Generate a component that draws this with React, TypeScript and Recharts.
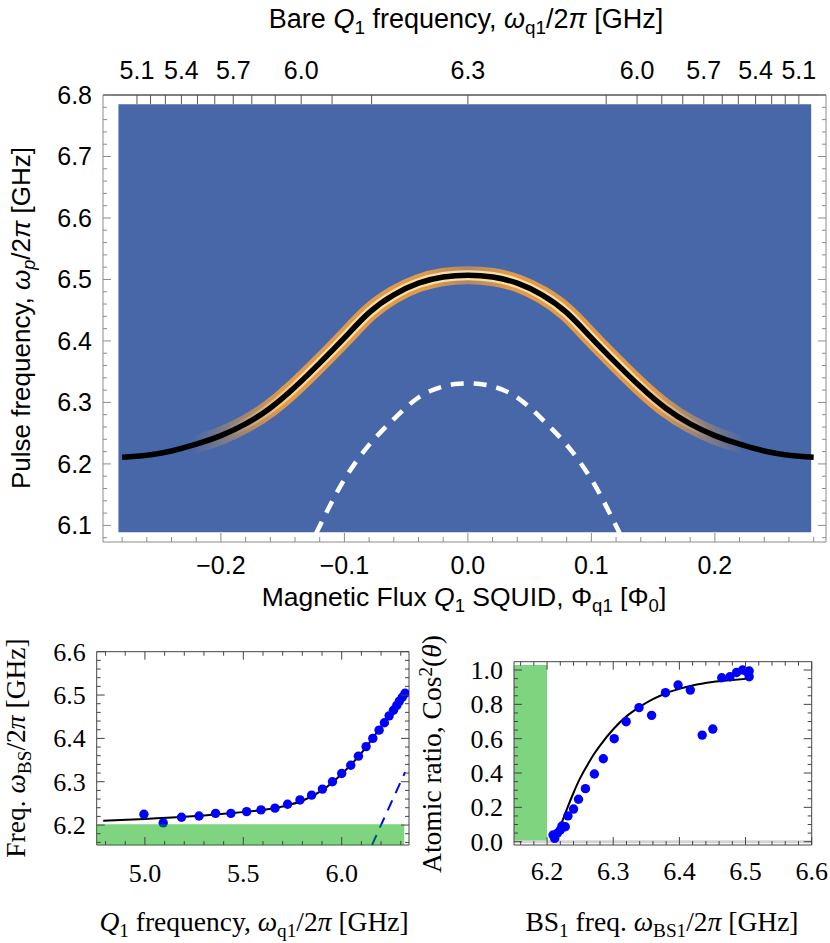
import React from 'react';
import { ComposedChart, Line, Scatter, XAxis, YAxis, ReferenceArea, ReferenceLine } from 'recharts';

// ---------------- Top panel: pulse spectroscopy vs flux ----------------
const fluxGrid = [-0.28, -0.26, -0.24, -0.22, -0.2, -0.18, -0.16, -0.14, -0.12, -0.1, -0.08, -0.06, -0.04, -0.02, 0, 0.02, 0.04, 0.06, 0.08, 0.1, 0.12, 0.14, 0.16, 0.18, 0.2, 0.22, 0.24, 0.26, 0.28];
const pulseFreq = [6.211, 6.214, 6.221, 6.232, 6.246, 6.265, 6.291, 6.325, 6.364, 6.405, 6.446, 6.475, 6.494, 6.504, 6.507, 6.504, 6.494, 6.475, 6.446, 6.405, 6.364, 6.325, 6.291, 6.265, 6.246, 6.232, 6.221, 6.214, 6.211];
const bareFlux = [-0.123, -0.11, -0.1, -0.09, -0.08, -0.07, -0.06, -0.05, -0.04, -0.03, -0.02, -0.01, 0, 0.01, 0.02, 0.03, 0.04, 0.05, 0.06, 0.07, 0.08, 0.09, 0.1, 0.11, 0.123];
const bareFreq = [6.087, 6.139, 6.175, 6.205, 6.231, 6.253, 6.273, 6.292, 6.308, 6.319, 6.326, 6.33, 6.331, 6.33, 6.326, 6.319, 6.308, 6.292, 6.273, 6.253, 6.231, 6.205, 6.175, 6.139, 6.087];
// extent of the measured map (flux, GHz)
const mapFlux = [-0.283, 0.278];
const mapFreq = [6.089, 6.785];

const topXDomain = [-0.2955, 0.29];
const topYDomain = [6.073, 6.8];
const fluxMajor = [-0.2, -0.1, 0, 0.1, 0.2];
const fluxLabels = ['\u22120.2', '\u22120.1', '0.0', '0.1', '0.2'];
const pulseMajor = [6.1, 6.2, 6.3, 6.4, 6.5, 6.6, 6.7, 6.8];
const topQubitTickFlux = [-0.268, -0.232, -0.19, -0.135, 0, 0.137, 0.191, 0.233, 0.268];
const topQubitTickLabels = ['5.1', '5.4', '5.7', '6.0', '6.3', '6.0', '5.7', '5.4', '5.1'];
const topQubitMinorFlux = [-0.257, -0.245, -0.219, -0.205, -0.175, -0.156, -0.11, -0.078, 0.112, 0.157, 0.174, 0.206, 0.219, 0.246, 0.257];

// ---------------- Bottom-left: BS frequency vs qubit frequency ----------------
const qubitFreqPts = [4.995, 5.093, 5.186, 5.275, 5.359, 5.437, 5.517, 5.59, 5.661, 5.725, 5.788, 5.847, 5.902, 5.953, 6.0, 6.046, 6.085, 6.124, 6.158, 6.19, 6.217, 6.241, 6.263, 6.28, 6.293, 6.308, 6.322];
const bsFreqPts = [6.225, 6.205, 6.218, 6.221, 6.227, 6.227, 6.231, 6.235, 6.239, 6.248, 6.258, 6.269, 6.283, 6.3, 6.319, 6.338, 6.359, 6.381, 6.4, 6.419, 6.436, 6.452, 6.465, 6.476, 6.486, 6.495, 6.504];
const qubitFreqFit = [4.788, 5.0, 5.2, 5.4, 5.6, 5.7, 5.8, 5.9, 6.0, 6.1, 6.2, 6.25, 6.3, 6.33];
const bsFreqFit = [6.21, 6.214, 6.219, 6.226, 6.235, 6.243, 6.256, 6.28, 6.318, 6.366, 6.427, 6.458, 6.49, 6.508];
const bareLineX = [6.154, 6.322];
const bareLineY = [6.154, 6.322];
const blXDomain = [4.755, 6.342];
const blYDomain = [6.154, 6.6];
const blXMajor = [5.0, 5.5, 6.0];
const blYMajor = [6.2, 6.3, 6.4, 6.5, 6.6];
const blBand = { x1: 4.755, x2: 6.318, y1: 6.154, y2: 6.202 };

// ---------------- Bottom-right: atomic ratio vs BS frequency ----------------
const bsFreqRatioPts = [6.209, 6.2115, 6.2155, 6.22, 6.2225, 6.2275, 6.2315, 6.24, 6.2475, 6.258, 6.2715, 6.285, 6.3015, 6.3195, 6.339, 6.358, 6.379, 6.398, 6.4165, 6.4345, 6.4505, 6.464, 6.4765, 6.4865, 6.4955, 6.502, 6.5055, 6.5055];
const ratioPts = [0.039, 0.019, 0.049, 0.068, 0.091, 0.087, 0.15, 0.19, 0.247, 0.309, 0.394, 0.483, 0.6, 0.699, 0.781, 0.736, 0.868, 0.913, 0.883, 0.621, 0.656, 0.955, 0.961, 0.986, 1.0, 0.99, 0.994, 0.961];
const bsFreqRatioFit = [6.221, 6.23, 6.24, 6.25, 6.26, 6.27, 6.28, 6.3, 6.32, 6.34, 6.36, 6.38, 6.4, 6.42, 6.45, 6.48, 6.505];
const ratioFit = [0.1, 0.19, 0.285, 0.37, 0.44, 0.505, 0.56, 0.655, 0.73, 0.785, 0.83, 0.865, 0.89, 0.91, 0.93, 0.942, 0.95];
const brXDomain = [6.15, 6.6];
const brYDomain = [-0.0194, 1.0485];
const brXMajor = [6.2, 6.3, 6.4, 6.5, 6.6];
const brYMajor = [0, 0.2, 0.4, 0.6, 0.8, 1.0];
const brBand = { x1: 6.15, x2: 6.2, y1: 0, y2: 1.03 };

// ---------------- helpers ----------------
const zip = (xs: number[], ys: number[]) => xs.map((x, i) => ({ x, y: ys[i] }));
function range(a: number, b: number, step: number): number[] {
  const out: number[] = [];
  const n = Math.round((b - a) / step);
  for (let i = 0; i <= n; i++) out.push(+(a + i * step).toFixed(4));
  return out;
}

const SANS = '"Liberation Sans", Arial, Helvetica, sans-serif';
const SERIF = '"Liberation Serif", "Times New Roman", serif';

type Side = 'left' | 'right' | 'top' | 'bottom';
interface TickOpts {
  side: Side;
  m: number;
  major: number[];
  label?: (v: number) => string | null;
  len: number;
  minorLen: number;
  font: string;
  size: number;
  color: string;
}
function makeTick(o: TickOpts) {
  return function TickComp(props: any) {
    const { x, y, payload } = props;
    const v = payload.value as number;
    const isMajor = o.major.some((mv) => Math.abs(mv - v) < 1e-6);
    const L = isMajor ? o.len : o.minorLen;
    let x1 = x, y1 = y, x2 = x, y2 = y;
    let anchor: 'start' | 'middle' | 'end' = 'middle';
    let dy = '0';
    if (o.side === 'left') { x1 = x + o.m; x2 = x1 + L; anchor = 'end'; dy = '0.35em'; }
    else if (o.side === 'right') { x1 = x - o.m; x2 = x1 - L; anchor = 'start'; dy = '0.35em'; }
    else if (o.side === 'bottom') { y1 = y - o.m; y2 = y1 - L; dy = '0.72em'; }
    else { y1 = y + o.m; y2 = y1 + L; dy = '0'; }
    const text = isMajor && o.label ? o.label(v) : null;
    return (
      <g>
        <line x1={x1} y1={y1} x2={x2} y2={y2} stroke={o.color} strokeWidth={1} />
        {text !== null && (
          <text x={x} y={y} dy={dy} textAnchor={anchor} fontFamily={o.font} fontSize={o.size} fill="#000">
            {text}
          </text>
        )}
      </g>
    );
  };
}
const fixed1 = (v: number) => v.toFixed(1);
const lookup = (pos: number[], labels: string[]) => (v: number) => {
  const i = pos.findIndex((p) => Math.abs(p - v) < 1e-6);
  return i >= 0 ? labels[i] : null;
};

const Dot = (props: any) => <circle cx={props.cx} cy={props.cy} r={4.7} fill="#0000ff" />;

// ---------------- panels ----------------
function TopPanel() {
  const frame = '#8c8c8c';
  const fluxTicks = range(-0.28, 0.28, 0.02);
  const pulseTicks = range(6.08, 6.8, 0.02);
  const qubitTicks = [...topQubitTickFlux, ...topQubitMinorFlux].sort((a, b) => a - b);
  const common = { font: SANS, size: 25 };
  return (
    <ComposedChart width={830} height={600} margin={{ top: 55, right: 0, bottom: 18, left: 43 }}>
      <defs>
        <linearGradient id="glowOuter" x1="0" y1="0" x2="1" y2="0">
          <stop offset="0" stopColor="#f0a040" stopOpacity={0} />
          <stop offset="0.1" stopColor="#f0a040" stopOpacity={0} />
          <stop offset="0.23" stopColor="#f0a040" stopOpacity={0.9} />
          <stop offset="0.44" stopColor="#f0a040" stopOpacity={0.9} />
          <stop offset="0.5" stopColor="#f0a040" stopOpacity={0.6} />
          <stop offset="0.56" stopColor="#f0a040" stopOpacity={0.9} />
          <stop offset="0.77" stopColor="#f0a040" stopOpacity={0.9} />
          <stop offset="0.9" stopColor="#f0a040" stopOpacity={0} />
          <stop offset="1" stopColor="#f0a040" stopOpacity={0} />
        </linearGradient>
        <linearGradient id="glowInner" x1="0" y1="0" x2="1" y2="0">
          <stop offset="0" stopColor="#ffe2a6" stopOpacity={0} />
          <stop offset="0.15" stopColor="#ffe2a6" stopOpacity={0} />
          <stop offset="0.27" stopColor="#ffe2a6" stopOpacity={0.95} />
          <stop offset="0.73" stopColor="#ffe2a6" stopOpacity={0.95} />
          <stop offset="0.85" stopColor="#ffe2a6" stopOpacity={0} />
          <stop offset="1" stopColor="#ffe2a6" stopOpacity={0} />
        </linearGradient>
      </defs>
      <XAxis
        xAxisId={0}
        dataKey="x"
        type="number"
        domain={topXDomain}
        allowDataOverflow
        ticks={fluxTicks}
        interval={0}
        height={40}
        tickSize={0}
        tickMargin={14}
        tickLine={false}
        axisLine={{ stroke: frame }}
        tick={makeTick({ side: 'bottom', m: 14, major: fluxMajor, label: lookup(fluxMajor, fluxLabels), len: 9, minorLen: 5, color: frame, ...common })}
      />
      <XAxis
        xAxisId="top"
        orientation="top"
        dataKey="x"
        type="number"
        domain={topXDomain}
        allowDataOverflow
        ticks={qubitTicks}
        interval={0}
        height={40}
        tickSize={0}
        tickMargin={16}
        tickLine={false}
        axisLine={{ stroke: '#000' }}
        tick={makeTick({ side: 'top', m: 16, major: topQubitTickFlux, label: lookup(topQubitTickFlux, topQubitTickLabels), len: 9, minorLen: 9, color: '#555', ...common })}
      />
      <YAxis
        yAxisId={0}
        dataKey="y"
        type="number"
        domain={topYDomain}
        allowDataOverflow
        ticks={pulseTicks}
        interval={0}
        width={60}
        tickSize={0}
        tickMargin={11}
        tickLine={false}
        axisLine={{ stroke: frame }}
        tick={makeTick({ side: 'left', m: 11, major: pulseMajor, label: fixed1, len: 8, minorLen: 4, color: frame, ...common })}
      />
      <YAxis
        yAxisId="r"
        orientation="right"
        dataKey="y"
        type="number"
        domain={topYDomain}
        allowDataOverflow
        ticks={pulseTicks}
        interval={0}
        width={4}
        tickSize={0}
        tickMargin={0}
        tickLine={false}
        axisLine={{ stroke: frame }}
        tick={makeTick({ side: 'right', m: 0, major: pulseMajor, len: 8, minorLen: 4, color: frame, ...common })}
      />
      <ReferenceArea x1={mapFlux[0]} x2={mapFlux[1]} y1={mapFreq[0]} y2={mapFreq[1]} fill="#4767a9" fillOpacity={1} stroke="none" />
      <Line data={zip(fluxGrid, pulseFreq)} dataKey="y" type="natural" stroke="url(#glowOuter)" strokeWidth={18} dot={false} activeDot={false} isAnimationActive={false} strokeLinecap="butt" />
      <Line data={zip(fluxGrid, pulseFreq)} dataKey="y" type="natural" stroke="url(#glowInner)" strokeWidth={10} dot={false} activeDot={false} isAnimationActive={false} strokeLinecap="butt" />
      <Line data={zip(fluxGrid, pulseFreq)} dataKey="y" type="natural" stroke="#000" strokeWidth={5.5} dot={false} activeDot={false} isAnimationActive={false} />
      <Line xAxisId="top" yAxisId="r" data={zip(bareFlux, bareFreq)} dataKey="y" type="natural" stroke="#fff" strokeWidth={4.5} strokeDasharray="13 10" dot={false} activeDot={false} isAnimationActive={false} />
    </ComposedChart>
  );
}

function BottomLeftPanel() {
  const frame = '#444';
  const common = { font: SERIF, size: 26 };
  const xTicks = range(4.8, 6.3, 0.1);
  const yTicks = range(6.16, 6.6, 0.02);
  return (
    <ComposedChart width={415} height={320} margin={{ top: 29.7, right: 4, bottom: 55, left: 36.7 }}>
      <XAxis xAxisId={0} dataKey="x" type="number" domain={blXDomain} allowDataOverflow ticks={xTicks} interval={0} height={40} tickSize={0} tickMargin={18} tickLine={false} axisLine={{ stroke: frame }}
        tick={makeTick({ side: 'bottom', m: 18, major: blXMajor, label: fixed1, len: 8, minorLen: 4, color: frame, ...common })} />
      <XAxis xAxisId="top" orientation="top" dataKey="x" type="number" domain={blXDomain} allowDataOverflow ticks={xTicks} interval={0} height={2} tickSize={0} tickMargin={0} tickLine={false} axisLine={{ stroke: frame }}
        tick={makeTick({ side: 'top', m: 0, major: blXMajor, len: 8, minorLen: 4, color: frame, ...common })} />
      <YAxis yAxisId={0} dataKey="y" type="number" domain={blYDomain} allowDataOverflow ticks={yTicks} interval={0} width={60} tickSize={0} tickMargin={11} tickLine={false} axisLine={{ stroke: frame }}
        tick={makeTick({ side: 'left', m: 11, major: blYMajor, label: fixed1, len: 8, minorLen: 4, color: frame, ...common })} />
      <YAxis yAxisId="r" orientation="right" dataKey="y" type="number" domain={blYDomain} allowDataOverflow ticks={yTicks} interval={0} width={2} tickSize={0} tickMargin={0} tickLine={false} axisLine={{ stroke: frame }}
        tick={makeTick({ side: 'right', m: 0, major: blYMajor, len: 8, minorLen: 4, color: frame, ...common })} />
      <Line xAxisId="top" yAxisId="r" data={zip(qubitFreqFit, bsFreqFit)} dataKey="y" type="monotone" stroke="#000" strokeWidth={2} dot={false} activeDot={false} isAnimationActive={false} />
      <Line data={zip(bareLineX, bareLineY)} dataKey="y" type="linear" stroke="#0000ff" strokeWidth={2} strokeDasharray="11 8" dot={false} activeDot={false} isAnimationActive={false} />
      <Scatter data={zip(qubitFreqPts, bsFreqPts)} dataKey="y" shape={Dot} isAnimationActive={false} />
      <ReferenceArea {...blBand} fill="#00aa00" fillOpacity={0.5} stroke="none" zIndex={700} />
    </ComposedChart>
  );
}

function BottomRightPanel() {
  const frame = '#444';
  const common = { font: SERIF, size: 26 };
  const xTicks = range(6.16, 6.6, 0.02);
  const yTicks = range(0, 1.0, 0.05);
  return (
    <ComposedChart width={415} height={320} margin={{ top: 39.7, right: 16.3, bottom: 55, left: 39 }}>
      <XAxis xAxisId={0} dataKey="x" type="number" domain={brXDomain} allowDataOverflow ticks={xTicks} interval={0} height={40} tickSize={0} tickMargin={16} tickLine={false} axisLine={{ stroke: frame }}
        tick={makeTick({ side: 'bottom', m: 16, major: brXMajor, label: fixed1, len: 8, minorLen: 4, color: frame, ...common })} />
      <XAxis xAxisId="top" orientation="top" dataKey="x" type="number" domain={brXDomain} allowDataOverflow ticks={xTicks} interval={0} height={2} tickSize={0} tickMargin={0} tickLine={false} axisLine={{ stroke: frame }}
        tick={makeTick({ side: 'top', m: 0, major: brXMajor, len: 8, minorLen: 4, color: frame, ...common })} />
      <YAxis yAxisId={0} dataKey="y" type="number" domain={brYDomain} allowDataOverflow ticks={yTicks} interval={0} width={60} tickSize={0} tickMargin={11} tickLine={false} axisLine={{ stroke: frame }}
        tick={makeTick({ side: 'left', m: 11, major: brYMajor, label: fixed1, len: 8, minorLen: 4, color: frame, ...common })} />
      <YAxis yAxisId="r" orientation="right" dataKey="y" type="number" domain={brYDomain} allowDataOverflow ticks={yTicks} interval={0} width={2} tickSize={0} tickMargin={0} tickLine={false} axisLine={{ stroke: frame }}
        tick={makeTick({ side: 'right', m: 0, major: brYMajor, len: 8, minorLen: 4, color: frame, ...common })} />
      <ReferenceLine y={0} stroke="#d4d4d4" strokeWidth={3} />
      <ReferenceArea {...brBand} fill="#00aa00" fillOpacity={0.5} stroke="none" />
      <Line xAxisId="top" yAxisId="r" data={zip(bsFreqRatioFit, ratioFit)} dataKey="y" type="monotone" stroke="#000" strokeWidth={2} dot={false} activeDot={false} isAnimationActive={false} />
      <Scatter data={zip(bsFreqRatioPts, ratioPts)} dataKey="y" shape={Dot} isAnimationActive={false} />
    </ComposedChart>
  );
}

const sub = { fontSize: '0.7em', verticalAlign: 'baseline', position: 'relative' as const, top: '0.3em', lineHeight: 0 };
const sup = { fontSize: '0.7em', verticalAlign: 'baseline', position: 'relative' as const, top: '-0.45em', lineHeight: 0 };

function Lbl(props: { x: number; y: number; rot?: boolean; font: string; size: number; children: React.ReactNode }) {
  return (
    <div
      style={{
        position: 'absolute',
        left: props.x,
        top: props.y,
        transform: `translate(-50%, -50%)${props.rot ? ' rotate(-90deg)' : ''}`,
        whiteSpace: 'nowrap',
        fontFamily: props.font,
        fontSize: props.size,
        lineHeight: 1,
        color: '#000',
      }}
    >
      {props.children}
    </div>
  );
}

export default function App() {
  return (
    <div style={{ position: 'absolute', left: 0, top: 0, width: 830, height: 943, background: '#fff', overflow: 'hidden' }}>
      <div style={{ position: 'absolute', left: 0, top: 0 }}>
        <TopPanel />
      </div>
      <div style={{ position: 'absolute', left: 0, top: 620 }}>
        <BottomLeftPanel />
      </div>
      <div style={{ position: 'absolute', left: 415, top: 620 }}>
        <BottomRightPanel />
      </div>

      <Lbl x={466} y={19} font={SANS} size={27}>
        Bare <i>Q</i><span style={sub}>1</span> frequency, <i>ω</i><span style={sub}>q1</span>/2<i>π</i> [GHz]
      </Lbl>
      <Lbl x={21} y={318} rot font={SANS} size={26}>
        Pulse frequency, <i>ω<span style={sub}>p</span></i>/2<i>π</i> [GHz]
      </Lbl>
      <Lbl x={464} y={597} font={SANS} size={26.5}>
        Magnetic Flux <i>Q</i><span style={sub}>1</span> SQUID, Φ<span style={sub}>q1</span> [Φ<span style={sub}>0</span>]
      </Lbl>

      <Lbl x={16} y={748} rot font={SERIF} size={27.5}>
        Freq. <i>ω</i><span style={sub}>BS</span>/2<i>π</i> [GHz]
      </Lbl>
      <Lbl x={254} y={922} font={SERIF} size={27.5}>
        <i>Q</i><span style={sub}>1</span> frequency, <i>ω</i><span style={sub}>q1</span>/2<i>π</i> [GHz]
      </Lbl>

      <Lbl x={432} y={754} rot font={SERIF} size={27.5}>
        Atomic ratio, Cos<span style={sup}>2</span>(<i>θ</i>)
      </Lbl>
      <Lbl x={662} y={922} font={SERIF} size={27.5}>
        BS<span style={sub}>1</span> freq. <i>ω</i><span style={sub}>BS1</span>/2<i>π</i> [GHz]
      </Lbl>
    </div>
  );
}
